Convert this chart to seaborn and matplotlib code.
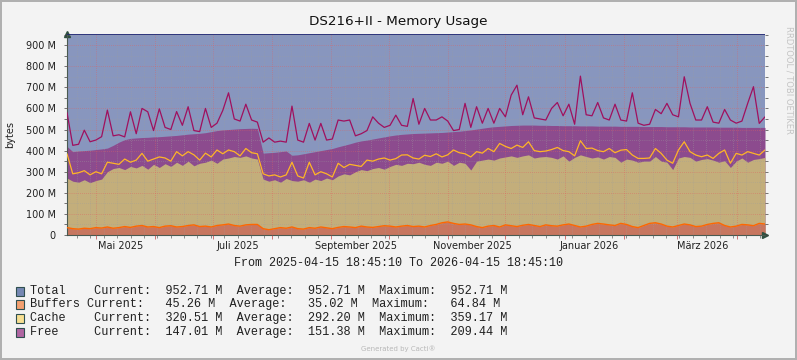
import numpy as np
import pandas as pd
import matplotlib
matplotlib.use("Agg")
import matplotlib.pyplot as plt
import matplotlib.dates as mdates
from matplotlib.patches import Rectangle
import seaborn as sns

# Zeitraum
start = "2025-04-15 18:45:10"
end = "2026-04-15 18:45:10"

total_value = 952.71  # M bytes

# Werte in M (gestapelte Oberkanten)
buffers = [35, 30, 28, 32, 30, 35, 33, 38, 32, 35, 40, 36, 42, 45, 38, 40, 35, 42, 44, 38, 40,
           45, 48, 40, 42, 38, 45, 48, 52, 45, 42, 48, 50, 50,
           30, 25, 30, 35, 32, 38, 30, 28, 35, 32, 38, 34, 30,
           36, 40, 38, 35, 42, 38, 36, 40, 44, 42, 38, 42, 45, 40, 42,
           38, 45, 50, 58, 62, 55, 50, 52, 48, 40, 35, 42, 45, 38, 48, 44, 40, 46, 50, 45,
           40, 48, 44, 42, 48, 52, 45, 38, 42, 50, 55, 52, 48, 45, 55, 50, 40, 35, 45, 55,
           58, 52, 42, 38, 45, 52, 48, 40, 42, 50, 55, 58, 45, 38, 42, 50, 48, 44, 55, 52]

cache_level = [270, 255, 250, 262, 248, 258, 265,
               300, 315, 320, 310, 325, 318,
               330, 312, 335, 320, 338, 325,
               345, 330, 350, 328, 340, 345,
               355, 340, 360,
               365, 372, 368, 375, 365, 360,
               265,
               255, 262, 250, 268, 258, 255,
               262, 250, 265, 258, 270, 262,
               280, 290, 285, 300, 310, 305,
               315, 320, 312, 325, 335, 330,
               340, 338, 345,
               335, 330, 345, 340, 350, 330,
               345, 340, 308, 350, 355, 360,
               355, 365, 370, 375, 368, 375,
               380, 365, 370, 372, 368, 360,
               375, 350, 368, 380, 372, 365,
               370, 360, 372, 368, 345, 360,
               355, 345, 350, 350, 372, 350,
               345, 310, 365, 372, 368, 350,
               358, 362, 355, 345, 352, 320,
               350, 365, 345, 358, 362, 368]

cache_peak = [385, 290, 295, 305, 285, 300, 290, 345, 340, 335,
              360, 345, 355, 387, 350, 360, 370, 365, 350, 395,
              375, 395, 380, 355, 388, 370, 403, 385, 403, 395,
              375, 410, 390, 385, 290, 280, 285, 275, 285, 345,
              280, 270, 345, 285, 300, 290, 275, 340, 320, 335,
              330, 325, 355, 350, 360, 365, 355, 362, 379, 380,
              365, 360, 378, 372, 385, 370, 380, 403, 390, 385,
              370, 395, 388, 410, 395, 434, 420, 410, 426, 415,
              442, 400, 395, 398, 405, 415, 400, 395, 375, 447,
              410, 412, 400, 395, 410, 390, 402, 405, 379, 363,
              363, 365, 410, 387, 355, 340, 403, 442, 395, 379,
              371, 379, 363, 387, 403, 340, 387, 379, 395, 387,
              379, 403]

free_level = [420, 395, 398, 400, 402, 405, 408,
              412, 425, 440, 452, 458, 460,
              462, 463, 465, 466, 468, 470,
              472, 475, 478, 480, 482, 485,
              490, 495, 498, 500, 502, 504, 505, 506, 505,
              388, 390, 392, 395, 398,
              378, 380, 385, 390, 395, 400, 405, 410,
              418, 425, 432, 440, 446, 450,
              455, 460, 465, 470, 474, 477, 479, 481, 482,
              483, 484, 485, 486, 488, 490, 492, 495, 498, 502,
              506, 510, 513, 515, 517, 519, 520, 521, 521, 521,
              520, 520, 519, 519, 518, 518, 518, 517, 517, 517,
              516, 516, 516, 516, 515, 515, 515, 515, 514, 514,
              514, 514, 513, 513, 513, 513, 512, 512, 512, 512,
              512, 511, 511, 511, 511, 510, 510, 510, 510, 510]

free_peak = [580, 425, 430, 497, 442, 450, 466, 592, 470, 475,
             465, 584, 480, 600, 584, 495, 598, 510, 500, 585,
             520, 608, 495, 490, 600, 510, 530, 590, 674, 550,
             540, 620, 545, 535, 440, 460, 440, 445, 440, 611,
             450, 440, 529, 450, 529, 450, 455, 545, 540, 545,
             470, 480, 495, 560, 530, 510, 520, 568, 520, 515,
             647, 525, 600, 545, 545, 560, 540, 495, 500, 624,
             510, 608, 530, 600, 530, 600, 560, 663, 710, 570,
             655, 555, 550, 545, 600, 628, 565, 620, 525, 753,
             570, 565, 628, 555, 545, 620, 545, 540, 674, 530,
             520, 525, 595, 575, 624, 570, 560, 750, 624, 545,
             545, 608, 535, 530, 595, 545, 530, 540, 624, 703,
             529, 560]

month_label_dates = ["2025-05-14", "2025-07-14", "2025-09-14",
                     "2025-11-14", "2026-01-14", "2026-03-14"]
month_labels = ["Mai 2025", "Juli 2025", "September 2025",
                "November 2025", "Januar 2026", "März 2026"]

y_ticks = [0, 100, 200, 300, 400, 500, 600, 700, 800, 900]
y_ticklabels = ["0"] + [f"{v} M" for v in y_ticks[1:]]

legend_names = ["Total    ", "Buffers ", "Cache    ", "Free     "]
legend_current = ["952.71 M", "45.26 M", "320.51 M", "147.01 M"]
legend_average = ["952.71 M", "35.02 M", "292.20 M", "151.38 M"]
legend_maximum = ["952.71 M", "64.84 M", "359.17 M", "209.44 M"]
legend_colors = ["#7588B3", "#F4A070", "#F8DF92", "#B066A2"]

dates = pd.date_range(start, end, periods=len(buffers))
total = np.full(len(dates), total_value)

sns.set_style("white")
plt.rcParams["font.family"] = ["DejaVu Sans"]

fig = plt.figure(figsize=(7.97, 3.6), dpi=100)
fig.patch.set_facecolor("#F3F3F3")
fig.patch.set_edgecolor("#B0B0B0")
fig.patch.set_linewidth(1.5)
ax = fig.add_axes([67 / 797, 1 - 235 / 360, 698 / 797, 201 / 360])

# Flächen
ax.fill_between(dates, 0, total, color="#8896BE", linewidth=0, zorder=1)
ax.fill_between(dates, 0, free_level, color="#8C4B8E", linewidth=0, zorder=1.1)
ax.fill_between(dates, 0, cache_level, color="#C3AE7B", linewidth=0, zorder=1.2)
ax.fill_between(dates, 0, buffers, color="#C7765F", linewidth=0, zorder=1.3)

# Linien
sns.lineplot(x=dates, y=total, ax=ax, color="#1F2470", linewidth=1.2, zorder=3)
sns.lineplot(x=dates, y=free_peak, ax=ax, color="#A0105E", linewidth=0.9, zorder=3)
sns.lineplot(x=dates, y=cache_peak, ax=ax, color="#FFB526", linewidth=0.9, zorder=3)
sns.lineplot(x=dates, y=buffers, ax=ax, color="#FF6600", linewidth=1.0, zorder=3)

ax.set_xlim(pd.Timestamp(start), pd.Timestamp(end))
ax.set_ylim(0, total_value)
ax.set_xlabel("")
ax.set_ylabel("")

# Gitter
ax.set_axisbelow(False)
ax.xaxis.set_major_locator(mdates.MonthLocator())
ax.xaxis.set_minor_locator(mdates.WeekdayLocator(byweekday=mdates.MO))
ax.xaxis.set_major_formatter(plt.NullFormatter())
ax.set_yticks(y_ticks)
ax.set_yticklabels(y_ticklabels)
ax.set_yticks(np.arange(50, 951, 100), minor=True)
ax.grid(which="minor", color="#9E9E9E", linestyle=(0, (1, 2)), linewidth=0.5, alpha=0.7)
ax.grid(which="major", color="#E06060", linestyle=(0, (1, 2)), linewidth=0.5, alpha=0.8)
ax.tick_params(axis="y", which="both", left=True, right=True, labelsize=7,
               colors="#404040", length=2, width=0.5, pad=6)
ax.tick_params(axis="y", labelcolor="#202020")
ax.tick_params(axis="x", which="major", length=3, width=0.5, color="#C04040", bottom=True)
ax.tick_params(axis="x", which="minor", length=2, width=0.5, color="#606060", bottom=True)

for side in ["top", "right"]:
    ax.spines[side].set_visible(False)
for side in ["left", "bottom"]:
    ax.spines[side].set_color("#4A5A50")
    ax.spines[side].set_linewidth(0.8)
ax.plot([0], [1.0], marker="^", color="#2F4F40", markersize=4,
        transform=ax.transAxes, clip_on=False)
ax.plot([1.0], [0], marker=">", color="#2F4F40", markersize=4,
        transform=ax.transAxes, clip_on=False)

for d, lab in zip(month_label_dates, month_labels):
    ax.text(pd.Timestamp(d), -0.055, lab, transform=ax.get_xaxis_transform(),
            ha="center", va="center", fontsize=7, color="#202020")

fig.text(10 / 797, 1 - 135 / 360, "bytes", rotation=90, ha="center", va="center",
         fontsize=7, color="#202020")

fig.text(0.5, 1 - 22 / 360, "DS216+II - Memory Usage", ha="center", va="center",
         fontsize=9.7, color="#101010")
fig.text(789 / 797, 1 - 80 / 360, "RRDTOOL / TOBI OETIKER", rotation=270,
         ha="center", va="center", fontsize=6, color="#C4C4C4")

mono = "Liberation Mono"
fig.text(398 / 797, 1 - 263 / 360, "From 2025-04-15 18:45:10 To 2026-04-15 18:45:10",
         ha="center", va="center", fontsize=8.5, family=mono, color="#202020")

row_y = [291, 304.5, 318.5, 332]
for i, name in enumerate(legend_names):
    y = 1 - row_y[i] / 360
    fig.patches.append(Rectangle((15.5 / 797, y - 4.5 / 360), 8 / 797, 9 / 360,
                                 transform=fig.transFigure, facecolor=legend_colors[i],
                                 edgecolor="#2F4F4F", linewidth=0.8))
    line = (f"{name}Current: {legend_current[i]:>9}  Average: {legend_average[i]:>9}"
            f"  Maximum: {legend_maximum[i]:>9}")
    fig.text(30 / 797, y, line, ha="left", va="center", fontsize=8.6,
             family=mono, color="#202020")

fig.text(398 / 797, 1 - 349 / 360, "Generated by Cacti®", ha="center", va="center",
         fontsize=5, color="#B8B8B8")

fig.savefig("out.png", dpi=100, facecolor=fig.get_facecolor(), edgecolor=fig.get_edgecolor())
